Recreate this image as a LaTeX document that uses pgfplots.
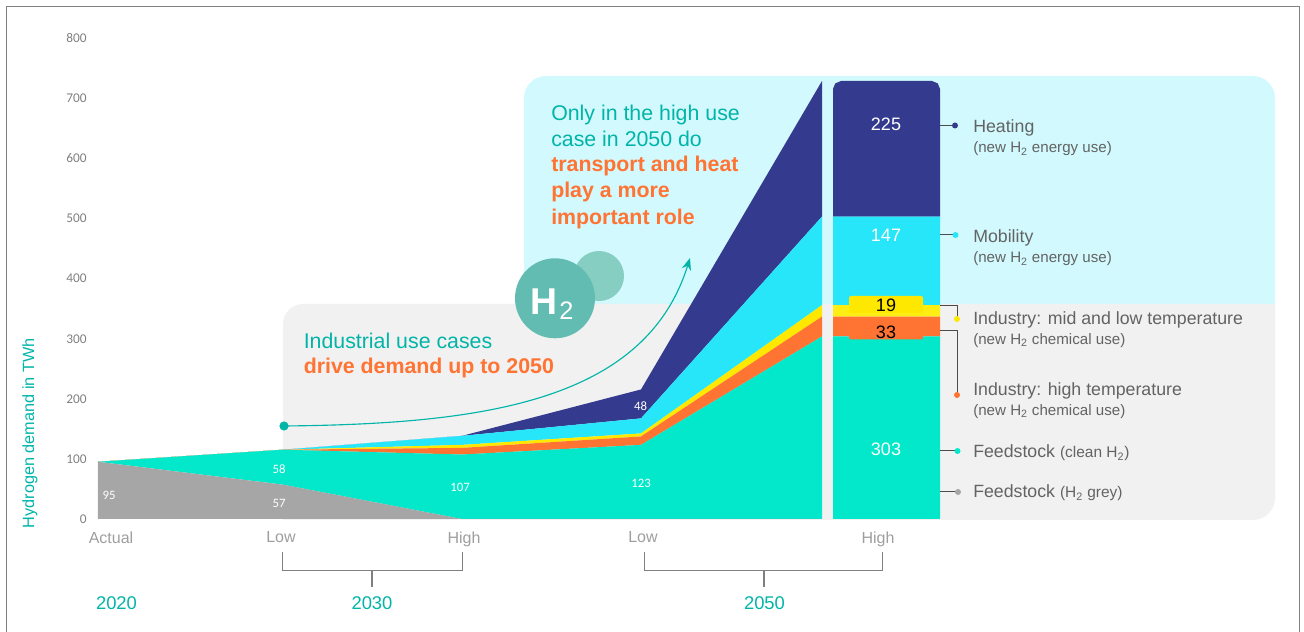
\documentclass[border=0pt]{standalone}
\usepackage{pgfplots}
\usepackage{pgfplotstable}
\usepackage{fontspec}
\setmainfont{Liberation Sans}
\newfontfamily\cb{Carlito}
\pgfplotsset{compat=1.18}
\usetikzlibrary{arrows.meta}

\definecolor{cGrey}{HTML}{A6A6A6}
\definecolor{cClean}{HTML}{03E8CA}
\definecolor{cOrange}{HTML}{FF7433}
\definecolor{cYellow}{HTML}{FFE800}
\definecolor{cBand}{HTML}{FFEE14}
\definecolor{cCyan}{HTML}{28E6FA}
\definecolor{cNavy}{HTML}{343B8F}
\definecolor{cPanelC}{HTML}{D2F9FD}
\definecolor{cPanelG}{HTML}{F1F1F1}
\definecolor{cTeal}{HTML}{00B5A8}
\definecolor{cText}{HTML}{636363}
\definecolor{cBig}{HTML}{62BCB2}
\definecolor{cSmall}{HTML}{86CDC2}

% demand by use and scenario, TWh; x is the horizontal position on the page
\pgfplotstableread{
x   grey clean high low mob heat
98  95   0     0    0   0   0
283 57   58    0    0   0   0
462 0    107   11   5   15  0
641 0    123   14   5   25  48
822 0    303   33   19  147 225
}\areas

% 2050 high case as a column with rounded upper corners
\pgfplotstableread{
x     clean high low mob heat
833   303   33   19  147 212
835.3 303   33   19  147 221
841   303   33   19  147 225
932   303   33   19  147 225
937.7 303   33   19  147 221
940   303   33   19  147 212
}\column

\pgfplotsset{base/.style={
  scale only axis, width=631.5pt, height=361.5pt,
  xmin=98, xmax=940, ymin=0, ymax=800,
  stack plots=y, area style,
}}

\tikzset{px/.style={x=0.75pt,y=-0.75pt,shift={(-73.5pt,389.25pt)}},
  lbl/.style={anchor=base west,inner sep=0pt,text=cText,font=\fontsize{13.3}{16}\selectfont},
  sub/.style={anchor=base west,inner sep=0pt,text=cText,font=\fontsize{11.35}{13}\selectfont},
  teal/.style={anchor=base west,inner sep=0pt,text=cTeal,font=\fontsize{16}{19}\selectfont},
  hot/.style={anchor=base west,inner sep=0pt,text=cOrange,font=\fontsize{16}{19}\selectfont\bfseries},
  val/.style={inner sep=0pt,text=white,font=\cb\fontsize{9.6}{11}\selectfont},
  big/.style={inner sep=0pt,text=white,font=\fontsize{13.5}{16}\selectfont},
  conn/.style={draw=black!70,line width=0.75pt}}

\begin{document}
\begin{tikzpicture}
\path[use as bounding box] (-73.5pt,389.25pt) rectangle ++(978pt,-474pt);

% background panels and outer frame
\begin{scope}[px]
  \draw[draw=black!50,line width=0.75pt] (6.3,632) -- (6.3,7) -- (1299.7,7) -- (1299.7,632);
  \fill[cPanelC] (524,304) -- (524,98) arc[start angle=180,end angle=270,radius=22] -- (1253,76)
     arc[start angle=270,end angle=360,radius=22] -- (1275,304) -- cycle;
  \fill[cPanelG] (283,520) -- (283,324) arc[start angle=180,end angle=270,radius=20] -- (1275,304)
     -- (1275,498) arc[start angle=0,end angle=90,radius=22] -- cycle;
\end{scope}

\begin{axis}[base,
  axis line style={draw=none}, major tick length=0pt,
  xtick={111,281,464,643,878}, xticklabels={Actual,Low,High,Low,High},
  ytick={0,100,200,300,400,500,600,700,800},
  /pgf/number format/assume math mode=true,
  xticklabel style={text=black!38,font=\fontsize{12}{14}\selectfont,yshift=-6pt},
  yticklabel style={text=black!50,font=\cb\fontsize{10}{12}\selectfont,xshift=-5pt,yshift=-0.5pt},
  ylabel={Hydrogen demand in TWh},
  ylabel style={at={(axis description cs:-0.0808,0.178)},anchor=center,text=cTeal,
    font=\fontsize{12.2}{14}\selectfont},
]
\addplot[fill=cGrey,draw=none]   table[x=x,y=grey]  {\areas} \closedcycle;
\addplot[fill=cClean,draw=none]  table[x=x,y=clean] {\areas} \closedcycle;
\addplot[fill=cOrange,draw=none] table[x=x,y=high]  {\areas} \closedcycle;
\addplot[fill=cYellow,draw=none] table[x=x,y=low]   {\areas} \closedcycle;
\addplot[fill=cCyan,draw=none]   table[x=x,y=mob]   {\areas} \closedcycle;
\addplot[fill=cNavy,draw=none]   table[x=x,y=heat]  {\areas} \closedcycle;
\end{axis}

\begin{axis}[base,hide axis]
\addplot[fill=cClean,draw=none]  table[x=x,y=clean] {\column} \closedcycle;
\addplot[fill=cOrange,draw=none] table[x=x,y=high]  {\column} \closedcycle;
\addplot[fill=cBand,draw=none]   table[x=x,y=low]   {\column} \closedcycle;
\addplot[fill=cCyan,draw=none]   table[x=x,y=mob]   {\column} \closedcycle;
\addplot[fill=cNavy,draw=none]   table[x=x,y=heat]  {\column} \closedcycle;
\end{axis}

\begin{scope}[px]
  % tabs behind the two narrow values
  \fill[cYellow,rounded corners=1.5pt] (849,296) rectangle (923,313);
  \fill[cOrange,rounded corners=1.5pt] (849,318) rectangle (923,339.5);
  \fill[cOrange] (849,318) rectangle (923,325);

  % value labels
  \node[val] at (109,495) {95};
  \node[val] at (279,469) {58};
  \node[val] at (279,503) {57};
  \node[val] at (460,487.5) {107};
  \node[val] at (641,483) {123};
  \node[val] at (640.5,406) {48};
  \node[big] at (886,124.5) {225};
  \node[big] at (886,235.5) {147};
  \node[big] at (886,449) {303};
  \node[big,text=black,anchor=base] at (886,312) {19};
  \node[big,text=black,anchor=base] at (886,339) {33};

  % call-out arrow
  \draw[cTeal,line width=0.85pt,-{Stealth[length=9pt,width=7pt]}] (284,426) .. controls (480,424) and (645,403) .. (690,258);
  \fill[cTeal] (284,426) circle[radius=4.6];

  % hydrogen badge
  \fill[cSmall] (599,276) circle[radius=25];
  \fill[cBig] (555,298.3) circle[radius=40];
  \node[anchor=base west,inner sep=0pt,text=white,font=\fontsize{28}{30}\selectfont\bfseries] at (530,315) {H};
  \node[anchor=base west,inner sep=0pt,text=white,font=\fontsize{19}{21}\selectfont] at (559,320) {2};

  % headline texts
  \node[teal] at (551,121) {Only in the high use};
  \node[teal] at (551,146.5) {case in 2050 do};
  \node[hot]  at (551,172) {transport and heat};
  \node[hot]  at (551,198) {play a more};
  \node[hot]  at (551,224.5) {important role};
  \node[teal] at (303.5,349) {Industrial use cases};
  \node[hot]  at (303.5,374) {drive demand up to 2050};

  % series captions with leader lines
  \draw[conn] (940,125.5) -- (955,125.5);
  \fill[cNavy] (955,125.5) circle[radius=3];
  \draw[conn] (940,235) -- (955,235);
  \fill[cCyan] (955.5,235) circle[radius=3];
  \draw[conn] (940,305.5) -- (957,305.5) -- (957,319);
  \fill[cYellow] (957,319) circle[radius=3];
  \draw[conn] (940,330.5) -- (957,330.5) -- (957,395);
  \fill[cOrange] (957,395) circle[radius=3];
  \draw[conn] (940,451) -- (957,451);
  \fill[cClean] (957.5,451) circle[radius=3];
  \draw[conn] (940,492) -- (958,492);
  \fill[cGrey] (958,492) circle[radius=3];

  \node[lbl] at (973,133) {Heating};
  \node[sub] at (973,153) {(new H\textsubscript{2} energy use)};
  \node[lbl] at (973,243) {Mobility};
  \node[sub] at (973,263) {(new H\textsubscript{2} energy use)};
  \node[lbl] at (973,324.5) {Industry: mid and low temperature};
  \node[sub] at (973,344.5) {(new H\textsubscript{2} chemical use)};
  \node[lbl] at (973,396) {Industry: high temperature};
  \node[sub] at (973,415.5) {(new H\textsubscript{2} chemical use)};
  \node[lbl] at (973,458) {Feedstock {\fontsize{11.6}{14}\selectfont(clean H\textsubscript{2})}};
  \node[lbl] at (973,498) {Feedstock {\fontsize{11.6}{14}\selectfont(H\textsubscript{2} grey)}};

  % scenario brackets and years
  \draw[draw=black!50,line width=0.75pt] (282,552) -- (282,570) -- (462,570) -- (462,552);
  \draw[draw=black!50,line width=0.9pt] (372,570) -- (372,587);
  \draw[draw=black!50,line width=0.75pt] (644,552) -- (644,570) -- (882,570) -- (882,552);
  \draw[draw=black!50,line width=0.9pt] (764,570) -- (764,587);
  \node[anchor=base,inner sep=0pt,text=cTeal,font=\fontsize{13.8}{16}\selectfont] at (116.5,609) {2020};
  \node[anchor=base,inner sep=0pt,text=cTeal,font=\fontsize{13.8}{16}\selectfont] at (372,609) {2030};
  \node[anchor=base,inner sep=0pt,text=cTeal,font=\fontsize{13.8}{16}\selectfont] at (764.5,609) {2050};
\end{scope}
\end{tikzpicture}
\end{document}
